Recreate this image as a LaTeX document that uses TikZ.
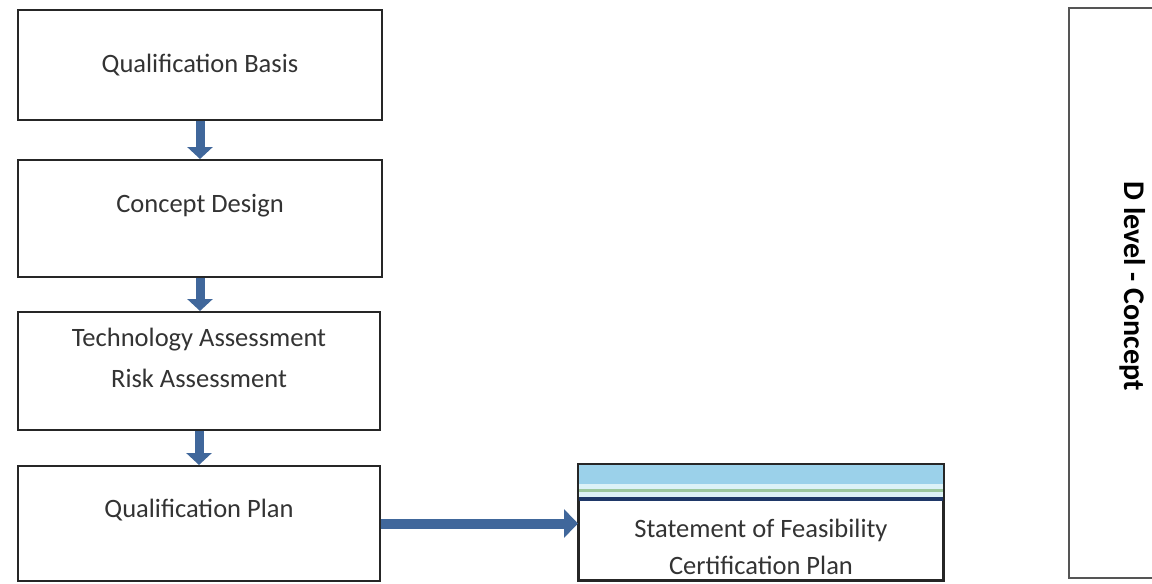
\documentclass[tikz,border=0pt]{standalone}
\usepackage{fontspec}
\setmainfont{Carlito}
\usetikzlibrary{arrows.meta}
\definecolor{arrowblue}{HTML}{40679B}
\definecolor{boxline}{HTML}{262626}
\definecolor{frameline}{HTML}{555555}
\definecolor{txtgray}{HTML}{333333}
\definecolor{bandblue}{HTML}{9BD1EA}
\definecolor{bandpale}{HTML}{DDF2F7}
\definecolor{bandgreen}{HTML}{9CC79E}
\definecolor{bandnavy}{HTML}{1F3868}
\tikzset{
  box/.style={draw=boxline, line width=2pt, fill=white, inner sep=0pt},
  txt/.style={text=txtgray, font=\fontsize{26.5}{30}\selectfont, align=center, inner sep=0pt},
  varrow/.style={draw=arrowblue, line width=9pt, -{Triangle[width=25pt,length=12pt]}},
  harrow/.style={draw=arrowblue, line width=10pt, -{Triangle[width=28pt,length=14pt]}},
}
\begin{document}
\begin{tikzpicture}[x=1pt,y=-1pt]
  \useasboundingbox (0,0) rectangle (1152,584);
  \fill[white] (0,0) rectangle (1152,584);

  % left column of process steps
  \node[box, minimum width=364pt, minimum height=110pt] (qb) at (200,65) {};
  \node[txt] (qbt) at (200,65) {Qualification Basis};

  \node[box, minimum width=364pt, minimum height=117pt] (cd) at (200,218.5) {};
  \node[txt] (cdt) at (200,206) {Concept Design};

  \node[box, minimum width=362pt, minimum height=118pt] (ta) at (199,371) {};
  \node[txt] (tat) at (199,340) {Technology Assessment};
  \node[txt] (tar) at (199,378) {Risk Assessment};

  \node[box, minimum width=362pt, minimum height=115pt] (qp) at (199,523.5) {};
  \node[txt] (qpt) at (199,510) {Qualification Plan};

  % deliverable box with coloured header band
  \node[box, minimum width=364pt, minimum height=115pt] (sf) at (761,522.5) {};
  \fill[bandblue] ([xshift=1pt,yshift=-1pt]sf.north west) rectangle ([xshift=-1pt]sf.east |- 0,484);
  \fill[bandpale] ([xshift=1pt]sf.west |- 0,484) rectangle ([xshift=-1pt]sf.east |- 0,489);
  \fill[bandgreen] ([xshift=1pt]sf.west |- 0,489) rectangle ([xshift=-1pt]sf.east |- 0,492);
  \fill[bandpale] ([xshift=1pt]sf.west |- 0,492) rectangle ([xshift=-1pt]sf.east |- 0,497);
  \fill[bandnavy] ([xshift=1pt]sf.west |- 0,497) rectangle ([xshift=-1pt]sf.east |- 0,500.5);
  \draw[boxline, line width=2pt] (sf.north west) rectangle (sf.south east);
  \node[txt] (sft) at (761,530) {Statement of Feasibility};
  \node[txt] (sfc) at (761,565) {Certification Plan};

  % level frame on the right
  \node[box, draw=frameline, minimum width=100pt, minimum height=570pt] (dl) at (1119,293) {};
  \node[font=\bfseries\fontsize{30}{34}\selectfont, text=black, rotate=-90, inner sep=0pt] (dlt) at (1133,286) {D level - Concept};

  % flow arrows
  \draw[varrow] (qb.south) -- (qb.south |- cd.north);
  \draw[varrow] (cd.south) -- (cd.south |- ta.north);
  \draw[varrow] (ta.south) -- (ta.south |- qp.north);
  \draw[harrow] (qp.east) -- (qp.east -| sf.west);
\end{tikzpicture}
\end{document}
